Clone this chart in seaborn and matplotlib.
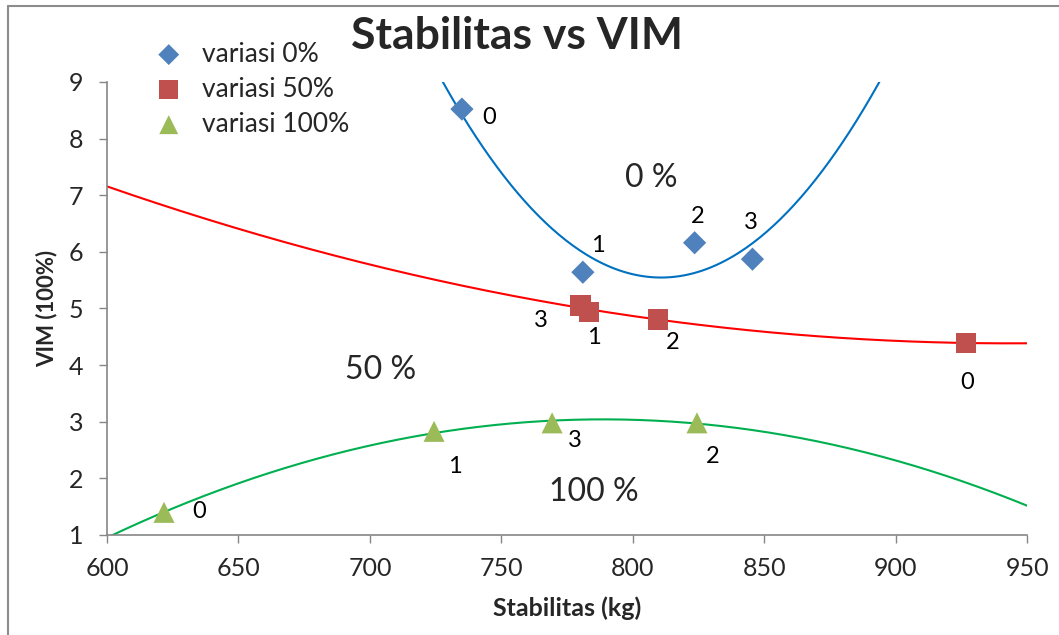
import numpy as np
import pandas as pd
import matplotlib
matplotlib.use("Agg")
import matplotlib.pyplot as plt
from matplotlib.lines import Line2D
import seaborn as sns

# ---- data ----
x0 = [735.0, 781.0, 823.5, 845.5]
y0 = [8.52, 5.64, 6.16, 5.87]
lab0 = ["0", "1", "2", "3"]

x50 = [926.7, 783.3, 809.6, 780.0]
y50 = [4.39, 4.94, 4.81, 5.05]
lab50 = ["0", "1", "2", "3"]

x100 = [621.7, 724.4, 824.4, 769.3]
y100 = [1.40, 2.83, 2.98, 2.98]
lab100 = ["0", "1", "2", "3"]

series_names = ["variasi 0%", "variasi 50%", "variasi 100%"]

df = pd.DataFrame({
    "x": x0 + x50 + x100,
    "y": y0 + y50 + y100,
    "series": [series_names[0]] * 4 + [series_names[1]] * 4 + [series_names[2]] * 4,
})

sns.set_theme(style="white")
plt.rcParams["font.family"] = ["Lato", "DejaVu Sans"]

fig = plt.figure(figsize=(10.59, 6.35), dpi=100)
ax = fig.add_axes([0.101, 0.1575, 0.869, 0.7135])

marker_cols = ["#4F81BD", "#C0504D", "#9BBB59"]
trend_cols = ["#0070C0", "#FF0000", "#00B050"]
markers = {series_names[0]: "D", series_names[1]: "s", series_names[2]: "^"}
sizes = {series_names[0]: 140, series_names[1]: 220, series_names[2]: 230}

# trendlines (2nd order polynomial fit, as Excel)
xx = np.linspace(600, 950, 400)
for xs, ys, c in [(x0, y0, trend_cols[0]), (x50, y50, trend_cols[1]), (x100, y100, trend_cols[2])]:
    p = np.polyfit(xs, ys, 2)
    sns.lineplot(x=xx, y=np.polyval(p, xx), ax=ax, color=c, lw=1.5, legend=False, zorder=2)

for name, col in zip(series_names, marker_cols):
    sub = df[df.series == name]
    sns.scatterplot(data=sub, x="x", y="y", ax=ax, marker=markers[name], s=sizes[name],
                    color=col, edgecolor="none", label=name, zorder=3)

# data labels
offs0 = [(27, -8), (15, 27), (3, 26), (-2, 37)]
offs50 = [(1, -40), (5, -26), (15, -23), (-39, -15)]
offs100 = [(35, 1), (21, -35), (16, -34), (23, -18)]
for xs, ys, labs, offs in [(x0, y0, lab0, offs0), (x50, y50, lab50, offs50), (x100, y100, lab100, offs100)]:
    for xv, yv, lb, o in zip(xs, ys, labs, offs):
        ax.annotate(lb, (xv, yv), xytext=o, textcoords="offset pixels",
                    ha="center", va="center", fontsize=17, color="black")

ax.text(807, 7.30, "0 %", fontsize=23, ha="center", va="center")
ax.text(704, 3.91, "50 %", fontsize=23, ha="center", va="center")
ax.text(785, 1.76, "100 %", fontsize=23, ha="center", va="center")

ax.set_xlim(600, 950)
ax.set_ylim(1, 9)
ax.set_xticks(range(600, 951, 50))
ax.set_yticks(range(1, 10))
ax.tick_params(axis="both", which="both", direction="out", length=6, width=1,
               color="#868686", labelsize=18, bottom=True, left=True)
ax.tick_params(axis="x", pad=10)
ax.tick_params(axis="y", pad=11)
for s in ["top", "right"]:
    ax.spines[s].set_visible(False)
for s in ["left", "bottom"]:
    ax.spines[s].set_color("#868686")
    ax.spines[s].set_linewidth(1.2)
ax.set_xlabel("Stabilitas (kg)", fontsize=18, fontweight="bold", labelpad=12)
ax.set_ylabel("VIM (100%)", fontsize=16, fontweight="bold", labelpad=8)
ax.grid(False)

if ax.legend_:
    ax.legend_.remove()
h, l = ax.get_legend_handles_labels()
fig.legend(h, l, loc="upper left", bbox_to_anchor=(0.112, 0.972), frameon=False,
           fontsize=19, handletextpad=0.25, labelspacing=0.38, markerscale=0.9)

fig.suptitle("Stabilitas vs VIM", x=0.488, y=0.975, fontsize=32, fontweight="bold")

# chart border
fig.add_artist(Line2D([8 / 1059, 8 / 1059], [0, 1 - 6 / 635], transform=fig.transFigure, color="#8c8c8c", lw=1.5))
fig.add_artist(Line2D([8 / 1059, 1], [1 - 6 / 635, 1 - 6 / 635], transform=fig.transFigure, color="#8c8c8c", lw=1.5))

fig.savefig("out.png", dpi=100)
